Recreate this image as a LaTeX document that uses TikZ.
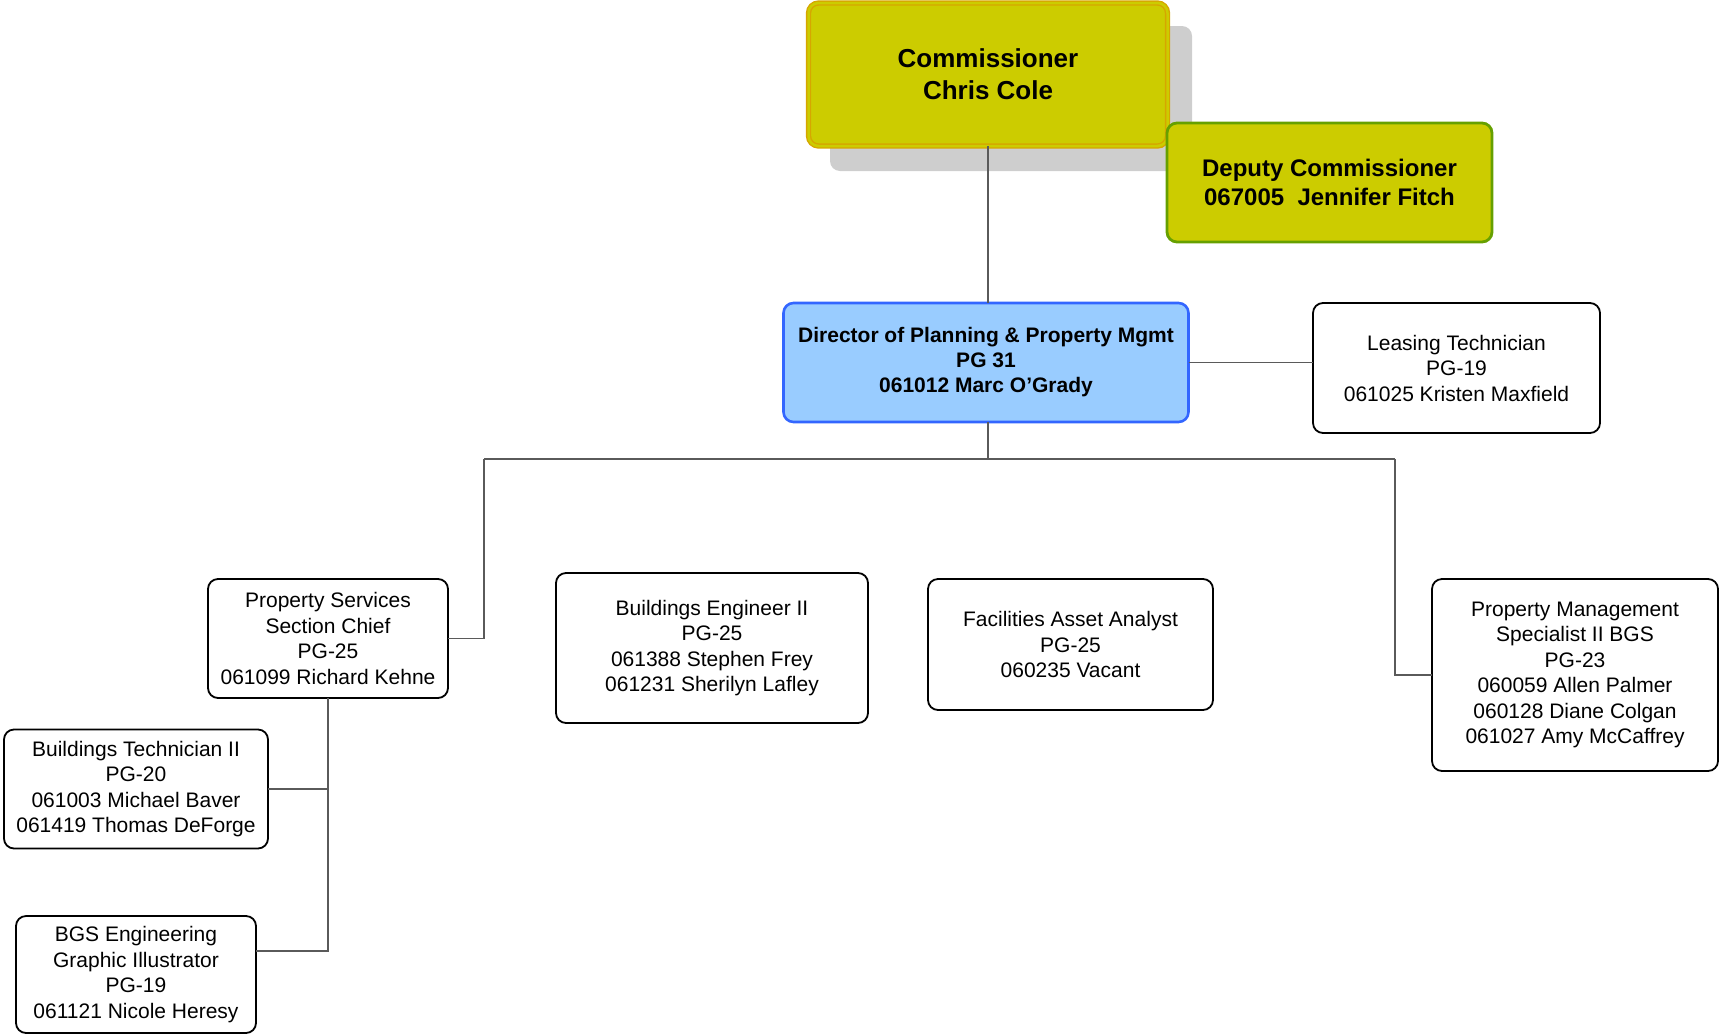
\documentclass[tikz,border=0pt]{standalone}
\usepackage{fontspec}
\setmainfont{Liberation Sans}
\definecolor{commfill}{RGB}{204,204,0}
\definecolor{commline}{RGB}{214,166,0}
\definecolor{depline}{RGB}{102,160,0}
\definecolor{dirfill}{RGB}{153,204,255}
\definecolor{dirline}{RGB}{51,102,255}
\definecolor{shade}{RGB}{206,206,206}
\definecolor{wire}{RGB}{90,90,90}
\begin{document}
\begin{tikzpicture}[x=1pt,y=-1pt,
  box/.style={draw=black, line width=1.8pt, rounded corners=10pt, fill=white,
    align=center, inner sep=0pt, outer sep=0pt, font=\fontsize{21}{25.5}\selectfont},
  dirbox/.style={box, draw=dirline, fill=dirfill, line width=2.6pt,
    font=\fontsize{21}{25}\selectfont\bfseries},
  commbox/.style={box, draw=commline, double=commfill, double distance=2.5pt,
    line width=1.4pt, fill=commfill, font=\fontsize{26}{32}\selectfont\bfseries},
  depbox/.style={box, draw=depline, fill=commfill, line width=2.8pt,
    font=\fontsize{24}{29.5}\selectfont\bfseries},
  shadowbox/.style={fill=shade, rounded corners=10pt, inner sep=0pt, outer sep=0pt},
  conn/.style={draw=wire, line width=1.3pt}
]
\useasboundingbox (0,0) rectangle (1720,1034);

% top level
\node[shadowbox, minimum width=362pt, minimum height=145pt] (commshadow) at (1011,98.5) {};
\node[commbox, minimum width=359pt, minimum height=143pt] (comm) at (988,74.5)
  {Commissioner\\Chris Cole};
\node[depbox, minimum width=325pt, minimum height=119pt] (dep) at (1329.5,182.5)
  {Deputy Commissioner\\067005\ \ Jennifer Fitch};

% director and staff
\node[dirbox, minimum width=405pt, minimum height=119pt] (dir) at (986,362.5)
  {\rule{0pt}{5pt}Director of Planning \& Property Mgmt\\PG 31\\061012 Marc O'Grady};
\node[box, minimum width=287pt, minimum height=130pt] (leas) at (1456.5,368)
  {Leasing Technician\\PG-19\\061025 Kristen Maxfield};

% second row
\node[box, minimum width=240pt, minimum height=119pt] (ps) at (328,638.5)
  {Property Services\\Section Chief\\PG-25\\061099 Richard Kehne};
\node[box, minimum width=312pt, minimum height=150pt] (be) at (712,648)
  {Buildings Engineer II\\PG-25\\061388 Stephen Frey\\061231 Sherilyn Lafley};
\node[box, minimum width=285pt, minimum height=131pt] (fa) at (1070.5,644.5)
  {Facilities Asset Analyst\\PG-25\\060235 Vacant};
\node[box, minimum width=286pt, minimum height=192pt] (pm) at (1575,675)
  {Property Management\\Specialist II BGS\\PG-23\\060059 Allen Palmer\\060128 Diane Colgan\\061027 Amy McCaffrey};

% under property services
\node[box, minimum width=264pt, minimum height=119pt] (bt) at (136,789)
  {Buildings Technician II\\PG-20\\061003 Michael Baver\\061419 Thomas DeForge};
\node[box, minimum width=240pt, minimum height=117pt] (bgs) at (136,974.5)
  {BGS Engineering\\Graphic Illustrator\\PG-19\\061121 Nicole Heresy};

% connectors
\coordinate (busL) at (484,459);
\coordinate (busR) at (1395,459);
\coordinate (bgsin) at (bgs.east |- 0,951);

\draw[conn] (comm.south) -- (comm.south |- dir.north);
\draw[conn] (dir.east) -- (dir.east -| leas.west);
\draw[conn] (comm.south |- dir.south) -- (comm.south |- busL);
\draw[conn] (busL) -- (busR);
\draw[conn] (busL) |- (ps.east);
\draw[conn] (busR) |- (pm.west);
\draw[conn] (ps.south) |- (bgsin);
\draw[conn] (ps.south |- bt.east) -- (bt.east);
\end{tikzpicture}
\end{document}
